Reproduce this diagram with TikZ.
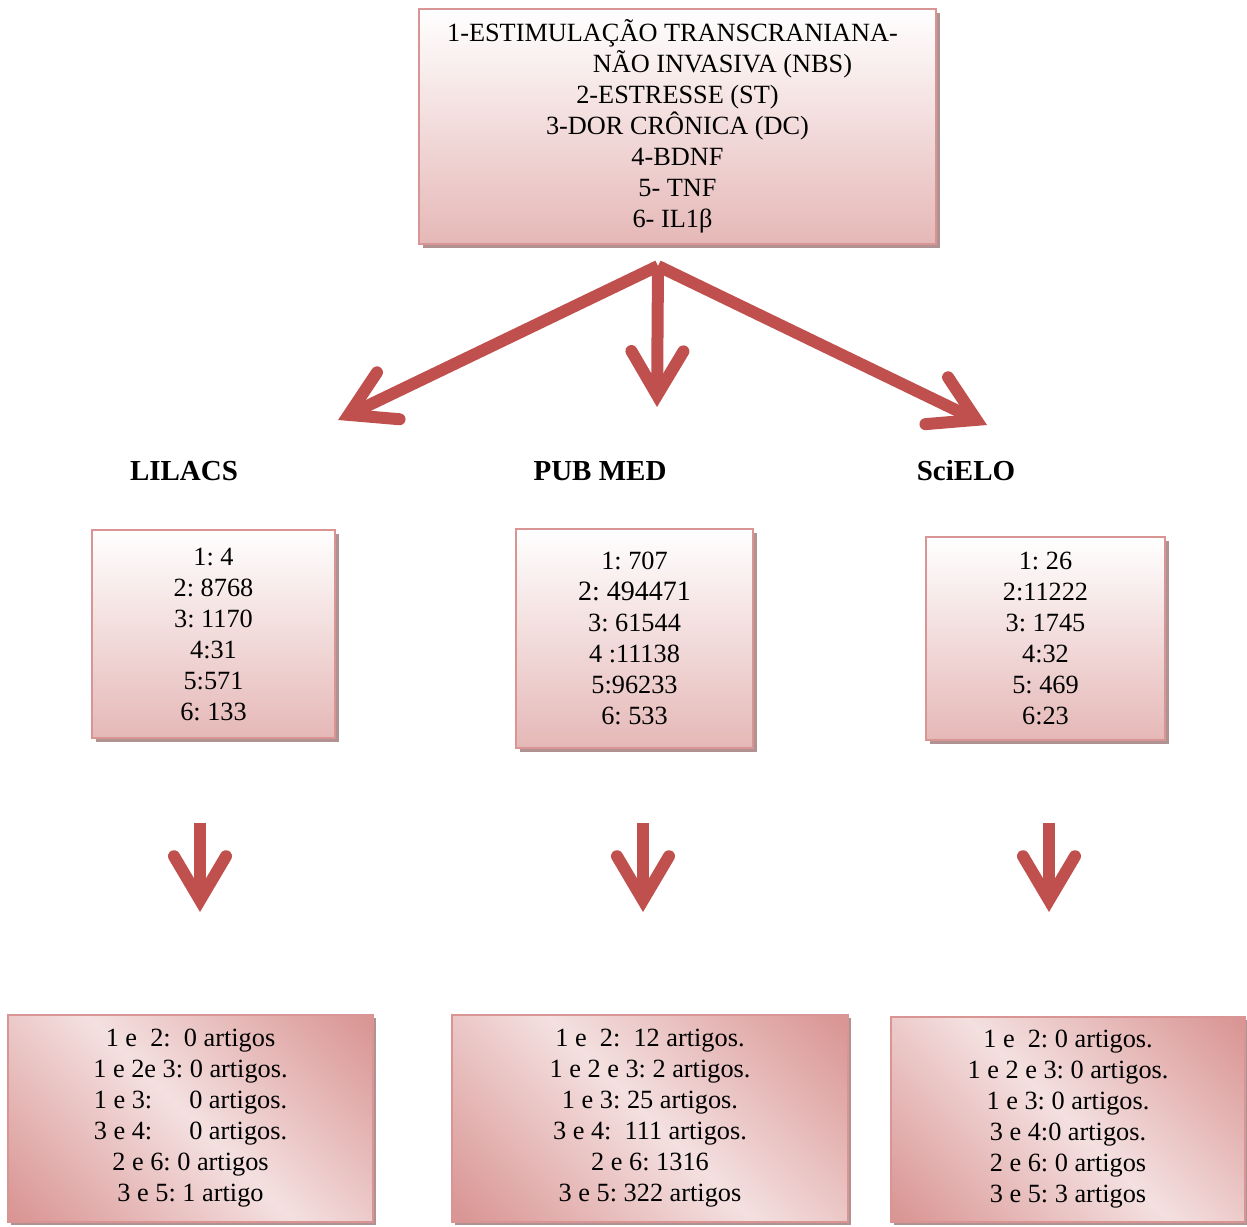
\documentclass[tikz,border=0pt]{standalone}
\usepackage{fontspec}
\setmainfont{Liberation Serif}
\usetikzlibrary{arrows.meta,shadows}
\frenchspacing

\definecolor{pinkline}{RGB}{217,149,148}
\definecolor{pinkfill}{RGB}{229,184,183}
\definecolor{pinklight}{RGB}{244,224,224}
\definecolor{pinkdark}{RGB}{217,150,148}
\definecolor{arrowred}{RGB}{192,80,77}
\definecolor{shadowgray}{RGB}{176,146,146}

\pgfdeclarehorizontalshading{pinkdiag}{100bp}{color(0bp)=(pinkdark); color(16bp)=(pinkdark); color(50bp)=(pinklight); color(84bp)=(pinkdark); color(100bp)=(pinkdark)}

\tikzset{
  termbox/.style={draw=pinkline,line width=2.5pt,top color=white,bottom color=pinkfill,align=center,font=\fontsize{26.3}{31}\selectfont,drop shadow={shadow xshift=4pt,shadow yshift=-4pt,fill=shadowgray,opacity=1}},
  resultbox/.style={draw=pinkline,line width=2.5pt,shading=pinkdiag,shading angle=45,align=center,font=\fontsize{26.3}{31}\selectfont,drop shadow={shadow xshift=3pt,shadow yshift=-3pt,fill=shadowgray,opacity=1}},
  dbname/.style={font=\fontsize{29}{31}\selectfont\bfseries},
  bigarrow/.style={draw=arrowred,line width=12pt,-{Straight Barb[length=44pt,width=52pt,line cap=round]}}
}

\begin{document}
\begin{tikzpicture}[x=1pt,y=-1pt]

\useasboundingbox (0,0) rectangle (1247,1226);

\node (terms) at (677.5,126.5) [termbox,minimum width=517pt,minimum height=235pt] {1-ESTIMULAÇÃO TRANSCRANIANA-\hspace*{10pt}\\\hspace*{90pt}NÃO INVASIVA (NBS)\\2-ESTRESSE (ST)\hspace*{10pt}\\3-DOR CRÔNICA (DC)\hspace*{10pt}\\4-BDNF\hspace*{10pt}\\5- TNF\hspace*{10pt}\\6- IL1β\hspace*{10pt}};

\coordinate (hub) at (658,266);
\coordinate (lilacstip) at (338,420);
\coordinate (pubmedtip) at (657,407);
\coordinate (scielotip) at (987,425);

\draw [bigarrow] (hub) -- (lilacstip);
\draw [bigarrow] (hub) -- (pubmedtip);
\draw [bigarrow] (hub) -- (scielotip);

\node (lilacs) at (184,471) [dbname] {LILACS};
\node (pubmed) at (600,471) [dbname] {PUB MED};
\node (scielo) at (966,471) [dbname] {SciELO};

\node (lilacsbox) at (213.5,634) [termbox,minimum width=243pt,minimum height=208pt] {1: 4\\2: 8768\\3: 1170\\4:31\\5:571\\6: 133};
\node (pubmedbox) at (634.5,638.5) [termbox,minimum width=237pt,minimum height=219pt] {1: 707\\{\fontsize{28}{31}\selectfont 2: 494471}\\3: 61544\\4 :11138\\5:96233\\6: 533};
\node (scielobox) at (1045.5,638.5) [termbox,minimum width=239pt,minimum height=203pt] {1: 26\\2:11222\\3: 1745\\4:32\\5: 469\\6:23};

\coordinate (lilacsfrom) at (200,823);
\coordinate (lilacsto) at (200,912);
\coordinate (pubmedfrom) at (643,823);
\coordinate (pubmedto) at (643,912);
\coordinate (scielofrom) at (1049,823);
\coordinate (scielito) at (1049,912);

\draw [bigarrow] (lilacsfrom) -- (lilacsto);
\draw [bigarrow] (pubmedfrom) -- (pubmedto);
\draw [bigarrow] (scielofrom) -- (scielito);

\node (lilacsres) at (190.5,1118.5) [resultbox,minimum width=365pt,minimum height=207pt] {1 e~ 2:~ 0 artigos\\1 e 2e 3: 0 artigos.\\1 e 3:\hspace{37pt}0 artigos.\\3 e 4:\hspace{37pt}0 artigos.\\2 e 6: 0 artigos\\3 e 5: 1 artigo};
\node (pubmedres) at (650,1118.5) [resultbox,minimum width=396pt,minimum height=207pt] {1 e~ 2:~ 12 artigos.\\1 e 2 e 3: 2 artigos.\\1 e 3: 25 artigos.\\3 e 4:~ 111 artigos.\\2 e 6: 1316\\3 e 5: 322 artigos};
\node (scielores) at (1068,1119.5) [resultbox,minimum width=354pt,minimum height=205pt] {1 e~ 2: 0 artigos.\\1 e 2 e 3: 0 artigos.\\1 e 3: 0 artigos.\\3 e 4:0 artigos.\\2 e 6: 0 artigos\\3 e 5: 3 artigos};

\end{tikzpicture}
\end{document}
